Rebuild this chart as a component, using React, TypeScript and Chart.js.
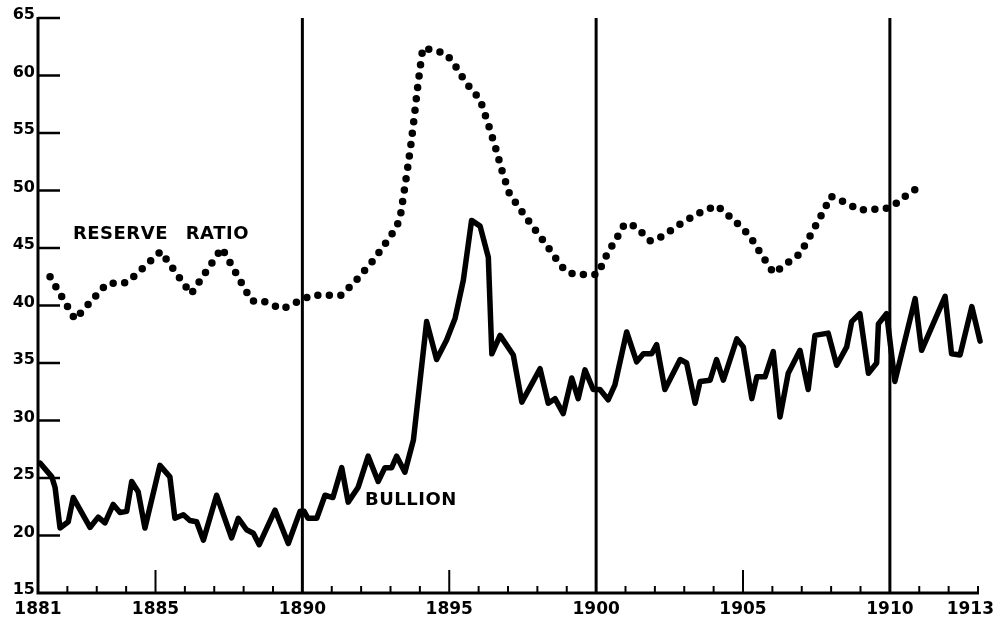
import React, { useEffect, useRef } from "react";
import { Chart, registerables } from "chart.js";

Chart.register(...registerables);

// ---- Data ----
const bullionYears = [
  1881.07, 1881.47, 1881.58, 1881.75, 1882.03, 1882.2, 1882.77, 1883.05, 1883.28, 1883.56,
  1883.79, 1884.02, 1884.19, 1884.41, 1884.64, 1885.15, 1885.49, 1885.66, 1885.95, 1886.17,
  1886.4, 1886.63, 1887.08, 1887.59, 1887.82, 1888.1, 1888.33, 1888.53, 1889.07, 1889.52,
  1889.92, 1890.06, 1890.19, 1890.49, 1890.77, 1891.04, 1891.34, 1891.56, 1891.9, 1892.24,
  1892.58, 1892.81, 1893.04, 1893.21, 1893.49, 1893.78, 1894.23, 1894.57, 1894.91, 1895.2,
  1895.48, 1895.76, 1896.05, 1896.33, 1896.45, 1896.73, 1897.18, 1897.47, 1897.75, 1898.09,
  1898.37, 1898.6, 1898.88, 1899.17, 1899.39, 1899.62, 1899.9, 1900.13, 1900.41, 1900.64,
  1901.04, 1901.38, 1901.61, 1901.89, 1902.06, 1902.34, 1902.86, 1903.08, 1903.37, 1903.54,
  1903.88, 1904.1, 1904.33, 1904.79, 1905.01, 1905.3, 1905.47, 1905.75, 1906.03, 1906.26,
  1906.54, 1906.94, 1907.22, 1907.45, 1907.9, 1908.19, 1908.53, 1908.7, 1908.98, 1909.27,
  1909.55, 1909.61, 1909.89, 1910.17, 1910.86, 1911.08, 1911.88, 1912.1, 1912.39, 1912.79,
  1913.07,
];
const bullionValues = [
  26.3, 25.1, 24.2, 20.65, 21.2, 23.3, 20.7, 21.6, 21.1, 22.7,
  22.0, 22.1, 24.7, 23.8, 20.65, 26.1, 25.1, 21.5, 21.8, 21.3,
  21.2, 19.6, 23.5, 19.8, 21.5, 20.5, 20.2, 19.2, 22.2, 19.3,
  22.1, 22.1, 21.5, 21.5, 23.5, 23.3, 25.9, 22.9, 24.2, 26.9,
  24.7, 25.9, 25.9, 26.9, 25.5, 28.3, 38.6, 35.3, 37.0, 38.9,
  42.2, 47.4, 46.9, 44.2, 35.8, 37.4, 35.7, 31.6, 32.9, 34.5,
  31.5, 31.9, 30.6, 33.7, 31.9, 34.4, 32.7, 32.7, 31.8, 33.1,
  37.7, 35.1, 35.8, 35.8, 36.6, 32.7, 35.3, 35.0, 31.5, 33.4,
  33.5, 35.3, 33.5, 37.1, 36.4, 31.9, 33.8, 33.8, 36.0, 30.3,
  34.1, 36.1, 32.7, 37.4, 37.6, 34.8, 36.4, 38.6, 39.3, 34.1,
  35.0, 38.4, 39.3, 33.4, 40.6, 36.1, 40.8, 35.8, 35.7, 39.9,
  36.9,
];

const reserveYears = [
  1881.41, 1882.26, 1883.34, 1884.04, 1885.18, 1886.21, 1887.26, 1888.27, 1888.65, 1889.31,
  1890.32, 1891.34, 1891.87, 1892.44, 1892.91, 1893.15, 1893.32, 1893.44, 1893.57, 1893.69,
  1893.8, 1893.91, 1894.03, 1894.1, 1894.46, 1894.88, 1895.14, 1895.56, 1896.05, 1896.35,
  1896.59, 1896.81, 1897.04, 1897.27, 1897.77, 1898.24, 1898.71, 1898.96, 1899.28, 1900.05,
  1900.38, 1900.78, 1900.97, 1901.33, 1901.85, 1902.24, 1902.87, 1903.47, 1904.11, 1904.7,
  1905.22, 1905.66, 1906.05, 1906.62, 1906.94, 1907.36, 1907.76, 1907.99, 1908.36, 1908.98,
  1909.66, 1910.03, 1910.62, 1910.93,
];
const reserveValues = [
  42.5, 38.8, 41.9, 42.0, 44.7, 41.0, 45.0, 40.4, 40.4, 39.7,
  40.9, 40.9, 42.3, 44.0, 45.7, 46.6, 47.5, 49.5, 51.7, 53.9,
  56.2, 58.7, 61.1, 62.4, 62.2, 61.9, 61.1, 59.4, 57.9, 55.6,
  53.6, 51.6, 49.8, 48.9, 47.1, 45.5, 43.8, 43.0, 42.7, 42.7,
  44.5, 46.2, 47.1, 46.9, 45.6, 46.0, 47.1, 48.0, 48.7, 47.4,
  46.1, 44.3, 42.8, 43.9, 44.5, 46.4, 48.3, 49.5, 49.1, 48.3,
  48.4, 48.5, 49.7, 50.2,
];

const xTickLabels = [1881, 1885, 1890, 1895, 1900, 1905, 1910, 1913];
const yTickValues = [15, 20, 25, 30, 35, 40, 45, 50, 55, 60, 65];
const decadeYears = [1890, 1900, 1910];
const X_MIN = 1881;
const X_MAX = 1913;
const Y_MIN = 15;
const Y_MAX = 65;

// text labels on the plot: [text, year, value]
const seriesLabels: [string, number, number][] = [
  ["RESERVE", 1882.19, 46.2],
  ["RATIO", 1886.03, 46.2],
  ["BULLION", 1892.13, 23.1],
];

const FONT = '"DejaVu Sans", "Noto Sans", sans-serif';

const paperPlugin = {
  id: "paperAxes",
  beforeDatasetsDraw(chart: any) {
    const { ctx, scales, width } = chart;
    const x = scales.x;
    const y = scales.y;
    const left = x.getPixelForValue(X_MIN);
    const right = x.getPixelForValue(X_MAX);
    const bottom = y.getPixelForValue(Y_MIN);
    const top = y.getPixelForValue(Y_MAX);
    ctx.save();
    ctx.strokeStyle = "#000";
    ctx.lineCap = "butt";

    // decade vertical lines
    ctx.lineWidth = 3;
    for (const d of decadeYears) {
      const px = x.getPixelForValue(d);
      ctx.beginPath();
      ctx.moveTo(px, bottom);
      ctx.lineTo(px, top);
      ctx.stroke();
    }

    // year ticks
    ctx.lineWidth = 2;
    for (let yr = X_MIN + 1; yr <= X_MAX; yr++) {
      if (decadeYears.includes(yr)) continue;
      const px = x.getPixelForValue(yr);
      const len = yr % 5 === 0 ? 23 : 7;
      ctx.beginPath();
      ctx.moveTo(px, bottom);
      ctx.lineTo(px, bottom - len);
      ctx.stroke();
    }

    // y ticks
    ctx.lineWidth = 2.5;
    for (const v of yTickValues) {
      if (v === Y_MIN) continue;
      const py = y.getPixelForValue(v);
      ctx.beginPath();
      ctx.moveTo(left, py);
      ctx.lineTo(left + 22, py);
      ctx.stroke();
    }

    // axes
    ctx.lineWidth = 3;
    ctx.beginPath();
    ctx.moveTo(left, top - 1);
    ctx.lineTo(left, bottom);
    ctx.lineTo(right + 1, bottom);
    ctx.stroke();

    // tick labels
    ctx.fillStyle = "#000";
    ctx.font = `bold 16px ${FONT}`;
    ctx.textAlign = "right";
    ctx.textBaseline = "alphabetic";
    for (const v of yTickValues) {
      const py = y.getPixelForValue(v);
      ctx.fillText(String(v), left - 3, py + 1);
    }
    ctx.font = `bold 17px ${FONT}`;
    ctx.textAlign = "center";
    ctx.textBaseline = "middle";
    for (const t of xTickLabels) {
      let px = x.getPixelForValue(t);
      const w = ctx.measureText(String(t)).width;
      if (px + w / 2 > width - 6) px = width - 6 - w / 2;
      ctx.fillText(String(t), px, bottom + 17);
    }

    // series labels
    ctx.font = `bold 18px ${FONT}`;
    ctx.textAlign = "left";
    ctx.textBaseline = "middle";
    try {
      (ctx as any).letterSpacing = "0.5px";
    } catch (e) {}
    for (const [txt, yr, val] of seriesLabels) {
      ctx.fillText(txt, x.getPixelForValue(yr), y.getPixelForValue(val));
    }
    ctx.restore();
  },
};

export default function App() {
  const ref = useRef<HTMLCanvasElement | null>(null);
  useEffect(() => {
    if (!ref.current) return;
    const chart = new Chart(ref.current, {
      type: "line",
      data: {
        datasets: [
          {
            label: "Bullion",
            data: bullionYears.map((yr, i) => ({ x: yr, y: bullionValues[i] })),
            borderColor: "#000",
            borderWidth: 5.5,
            pointRadius: 0,
            borderJoinStyle: "round",
            borderCapStyle: "round",
            tension: 0,
            fill: false,
            clip: 10,
          } as any,
          {
            label: "Reserve ratio",
            data: reserveYears.map((yr, i) => ({ x: yr, y: reserveValues[i] })),
            borderColor: "#000",
            borderWidth: 7.5,
            borderDash: [0, 11.5],
            borderCapStyle: "round",
            borderJoinStyle: "round",
            pointRadius: 0,
            tension: 0,
            fill: false,
            clip: 10,
          } as any,
        ],
      },
      options: {
        responsive: false,
        animation: false,
        devicePixelRatio: 1,
        layout: { padding: { left: 38, right: 22, top: 18, bottom: 35 } },
        plugins: { legend: { display: false }, tooltip: { enabled: false } },
        scales: {
          x: { type: "linear", min: X_MIN, max: X_MAX, display: false },
          y: { type: "linear", min: Y_MIN, max: Y_MAX, display: false },
        },
      } as any,
      plugins: [paperPlugin],
    });
    return () => chart.destroy();
  }, []);
  return (
    <div style={{ position: "absolute", left: 0, top: 0, width: 1000, height: 628, background: "#fff" }}>
      <canvas ref={ref} width={1000} height={628} style={{ display: "block" }} />
    </div>
  );
}
